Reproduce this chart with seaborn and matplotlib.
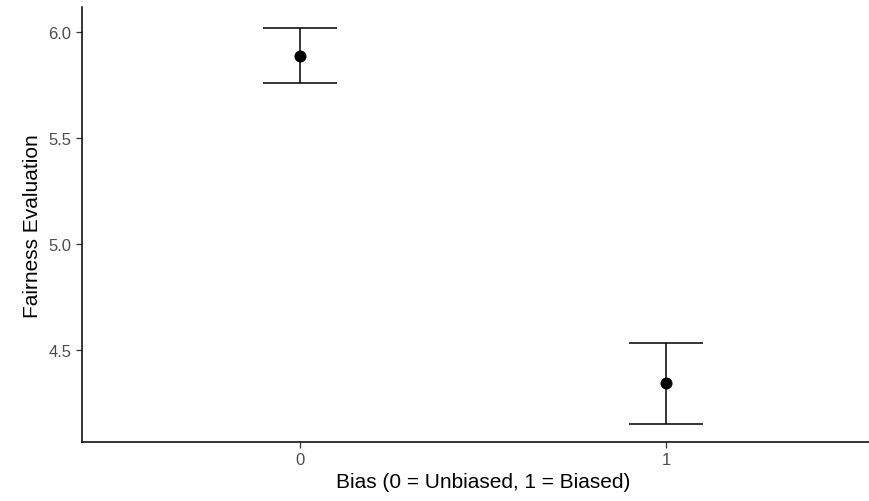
import matplotlib
matplotlib.use("Agg")
import matplotlib.pyplot as plt
import seaborn as sns
import pandas as pd
import numpy as np

bias = ["0", "1"]
means = [5.885, 4.343]
lower = [5.759, 4.152]
upper = [6.019, 4.533]
yticks = [4.5, 5.0, 5.5, 6.0]

sns.set_theme(style="ticks")
plt.rcParams['font.family'] = ['Liberation Sans', 'DejaVu Sans']

W, H = 869, 502
fig = plt.figure(figsize=(W / 100, H / 100), dpi=100)
left, right, top, bottom = 82, 869, 8.3, 443
ax = fig.add_axes([left / W, (H - bottom) / H, (right - left) / W, (bottom - top) / H])

df = pd.DataFrame({"Bias": bias, "mean": means, "lo": lower, "hi": upper})
xpos = np.arange(len(bias))

ax.errorbar(xpos, df["mean"],
            yerr=[df["mean"] - df["lo"], df["hi"] - df["mean"]],
            fmt="none", ecolor="black", elinewidth=1.1, capsize=26.6, capthick=1.1)
sns.scatterplot(x=xpos, y=df["mean"], ax=ax, color="black", s=75,
                edgecolor="black", linewidth=0, zorder=3, legend=False)

ax.set_xticks(xpos)
ax.set_xticklabels(bias)
ax.set_yticks(yticks)
ax.set_yticklabels([f"{v:.1f}" for v in yticks])
ax.set_xlim(-0.596, 1.555)
ax.set_ylim(4.066, 6.1165)

for s in ["top", "right"]:
    ax.spines[s].set_visible(False)
for s in ["left", "bottom"]:
    ax.spines[s].set_color("black")
    ax.spines[s].set_linewidth(1.1)

ax.tick_params(axis="both", length=4, width=0.9, color="#333333",
               labelcolor="#4D4D4D", labelsize=12, pad=3.5)
ax.set_xlabel("Bias (0 = Unbiased, 1 = Biased)", fontsize=15, color="black", labelpad=3)
ax.xaxis.set_label_coords(0.5095, -0.07)
ax.xaxis.label.set_verticalalignment("top")
ax.set_ylabel("Fairness Evaluation", fontsize=15, color="black", labelpad=5)
ax.grid(False)

fig.savefig("out.png", dpi=100)
